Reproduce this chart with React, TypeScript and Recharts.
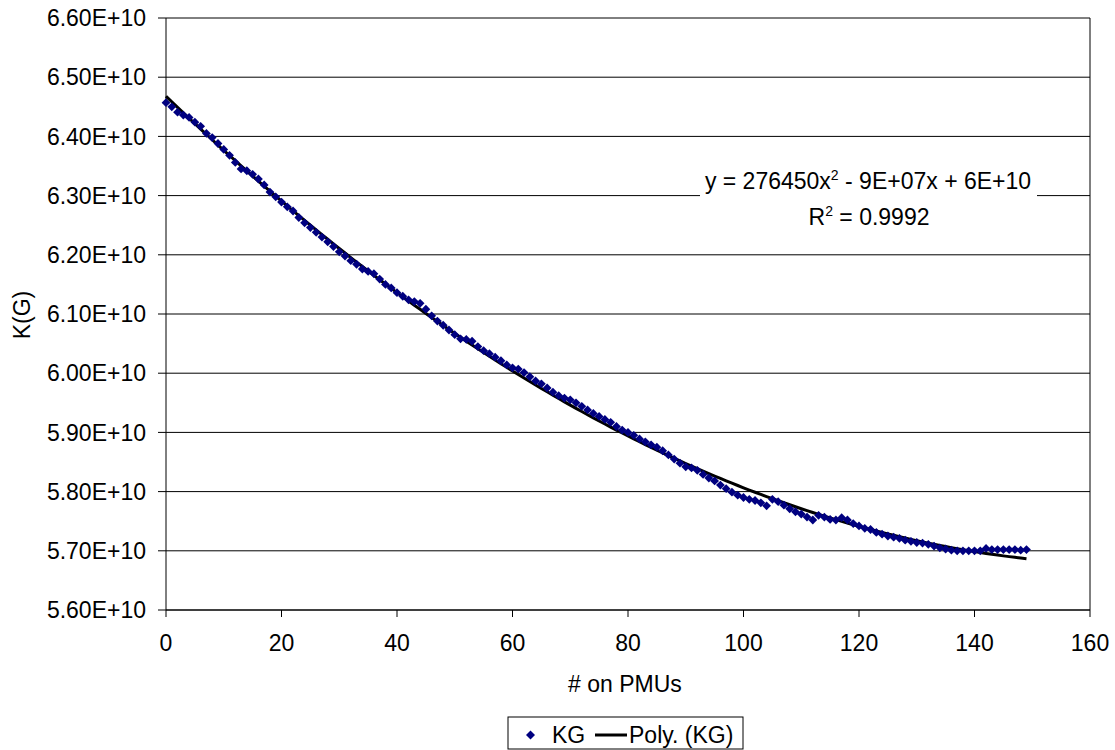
import {
  CartesianGrid,
  ComposedChart,
  Line,
  ReferenceLine,
  Scatter,
  XAxis,
  YAxis,
} from 'recharts';

// K(G) per number of PMUs, in units of 1E+10
const pmuCounts = Array.from({ length: 150 }, (_, i) => i);
const kgValues = [
  6.457, 6.45, 6.441, 6.436, 6.432, 6.424, 6.417, 6.405, 6.398, 6.388,
  6.378, 6.368, 6.356, 6.345, 6.342, 6.336, 6.328, 6.318, 6.306, 6.298,
  6.289, 6.281, 6.274, 6.263, 6.254, 6.246, 6.238, 6.23, 6.222, 6.214,
  6.205, 6.198, 6.19, 6.184, 6.176, 6.172, 6.168, 6.159, 6.15, 6.144,
  6.136, 6.13, 6.124, 6.121, 6.118, 6.108, 6.097, 6.088, 6.081, 6.073,
  6.065, 6.058, 6.057, 6.054, 6.045, 6.038, 6.033, 6.027, 6.021, 6.014,
  6.009, 6.007, 6.001, 5.994, 5.987, 5.982, 5.975, 5.968, 5.962, 5.958,
  5.955, 5.95, 5.944, 5.938, 5.932, 5.927, 5.922, 5.917, 5.91, 5.904,
  5.9, 5.895, 5.889, 5.884, 5.879, 5.875, 5.869, 5.862, 5.855, 5.848,
  5.842, 5.84, 5.836, 5.829, 5.823, 5.818, 5.811, 5.805, 5.799, 5.794,
  5.79, 5.787, 5.785, 5.781, 5.776, 5.787, 5.783, 5.777, 5.771, 5.766,
  5.762, 5.757, 5.752, 5.76, 5.757, 5.753, 5.752, 5.756, 5.752, 5.746,
  5.742, 5.738, 5.736, 5.731, 5.728, 5.725, 5.723, 5.721, 5.718, 5.716,
  5.714, 5.713, 5.711, 5.708, 5.705, 5.703, 5.701, 5.7, 5.7, 5.7,
  5.7, 5.7, 5.704, 5.702, 5.702, 5.702, 5.702, 5.702, 5.701, 5.702,
];

const xTicks = [0, 20, 40, 60, 80, 100, 120, 140, 160];
const yTicks = [5.6, 5.7, 5.8, 5.9, 6.0, 6.1, 6.2, 6.3, 6.4, 6.5, 6.6].map((v) => v * 1e10);

const FONT = '"Liberation Sans", Arial, sans-serif';
const NAVY = '#000080';

// least squares 2nd order polynomial, like the Excel trendline
function quadFit(xs: number[], ys: number[]) {
  let s0 = 0, s1 = 0, s2 = 0, s3 = 0, s4 = 0, t0 = 0, t1 = 0, t2 = 0;
  xs.forEach((x, i) => {
    const y = ys[i];
    s0 += 1; s1 += x; s2 += x * x; s3 += x ** 3; s4 += x ** 4;
    t0 += y; t1 += x * y; t2 += x * x * y;
  });
  const det = (m: number[][]) =>
    m[0][0] * (m[1][1] * m[2][2] - m[1][2] * m[2][1]) -
    m[0][1] * (m[1][0] * m[2][2] - m[1][2] * m[2][0]) +
    m[0][2] * (m[1][0] * m[2][1] - m[1][1] * m[2][0]);
  const A = [[s4, s3, s2], [s3, s2, s1], [s2, s1, s0]];
  const b = [t2, t1, t0];
  const D = det(A);
  const col = (k: number) => A.map((row, r) => row.map((v, c) => (c === k ? b[r] : v)));
  return [det(col(0)) / D, det(col(1)) / D, det(col(2)) / D];
}

const [qa, qb, qc] = quadFit(pmuCounts, kgValues);

const data = pmuCounts.map((x, i) => ({
  x,
  kg: kgValues[i] * 1e10,
  poly: (qa * x * x + qb * x + qc) * 1e10,
}));

const Diamond = (props: any) => {
  const { cx, cy } = props;
  const r = 4.4;
  return (
    <polygon
      points={`${cx},${cy - r} ${cx + r},${cy} ${cx},${cy + r} ${cx - r},${cy}`}
      fill={NAVY}
    />
  );
};

export default function App() {
  const tickStyle = { fill: '#000', fontSize: 23, fontFamily: FONT };
  return (
    <div style={{ position: 'absolute', left: 0, top: 0, width: 1115, height: 750, background: '#fff' }}>
      <ComposedChart
        width={1115}
        height={750}
        data={data}
        margin={{ top: 18, right: 25, bottom: 100, left: 0 }}
      >
        <CartesianGrid vertical={false} stroke="#000" strokeWidth={1} />
        <XAxis
          type="number"
          dataKey="x"
          domain={[0, 160]}
          ticks={xTicks}
          interval={0}
          height={40}
          tick={tickStyle}
          tickSize={7}
          tickMargin={18}
          axisLine={{ stroke: '#000' }}
          tickLine={{ stroke: '#000' }}
        />
        <YAxis
          type="number"
          domain={[5.6e10, 6.6e10]}
          ticks={yTicks}
          interval={0}
          width={166}
          tick={tickStyle}
          tickSize={8}
          tickMargin={12}
          tickFormatter={(v: number) => `${(v / 1e10).toFixed(2)}E+10`}
          axisLine={{ stroke: '#000' }}
          tickLine={{ stroke: '#000' }}
        />
        <ReferenceLine x={160} stroke="#000" />
        <Scatter dataKey="kg" shape={Diamond} isAnimationActive={false} />
        <Line
          dataKey="poly"
          type="monotone"
          stroke="#000"
          strokeWidth={3}
          dot={false}
          activeDot={false}
          isAnimationActive={false}
        />
      </ComposedChart>

      <svg
        width={1115}
        height={750}
        style={{ position: 'absolute', left: 0, top: 0, pointerEvents: 'none' }}
        fontFamily={FONT}
        fontSize={23}
      >
        {/* trendline equation */}
        <rect x={700} y={166} width={337} height={64} fill="#fff" />
        <text x={868} y={189} textAnchor="middle" fill="#000">
          y = 276450x
          <tspan dy={-9} fontSize={14}>2</tspan>
          <tspan dy={9}> - 9E+07x + 6E+10</tspan>
        </text>
        <text x={869} y={225} textAnchor="middle" fill="#000">
          R<tspan dy={-9} fontSize={14}>2</tspan>
          <tspan dy={9}> = 0.9992</tspan>
        </text>

        {/* axis titles */}
        <text x={625} y={692} textAnchor="middle" fill="#000">
          # on PMUs
        </text>
        <text x={30} y={315} textAnchor="middle" fill="#000" transform="rotate(-90 30 315)">
          K(G)
        </text>

        {/* legend */}
        <rect x={508} y={717} width={235} height={32} fill="#fff" stroke="#000" />
        <polygon points="530.5,730.5 535,735 530.5,739.5 526,735" fill={NAVY} />
        <text x={552} y={743} fill="#000">KG</text>
        <line x1={595} y1={735} x2={627} y2={735} stroke="#000" strokeWidth={3} />
        <text x={629} y={743} fill="#000">Poly. (KG)</text>
      </svg>
    </div>
  );
}
